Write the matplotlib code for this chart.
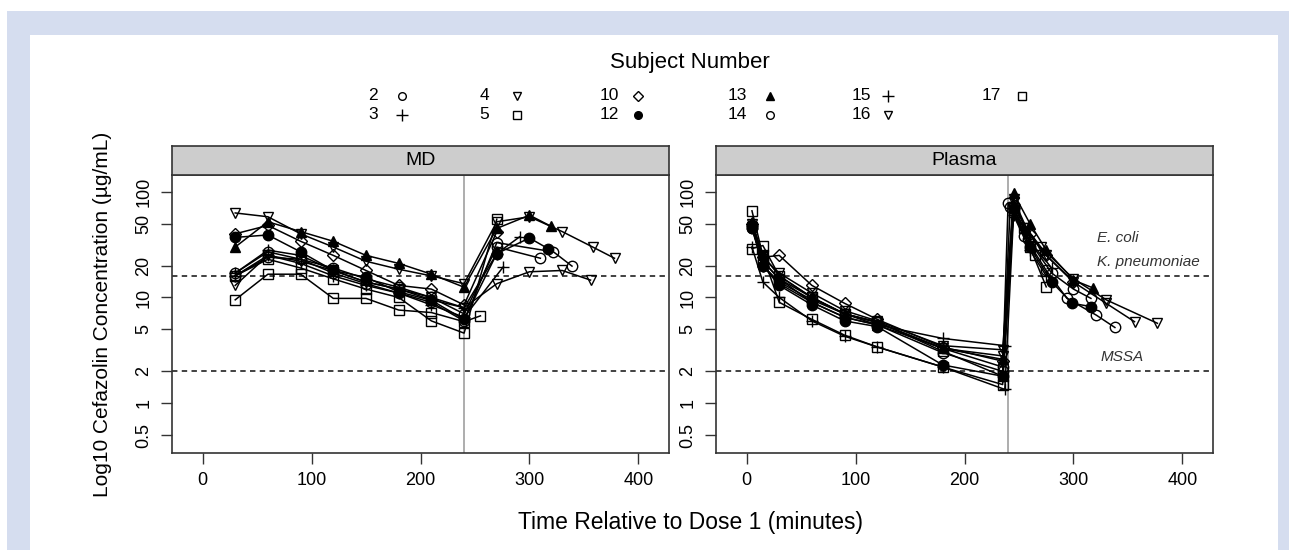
import matplotlib
matplotlib.use("Agg")
import matplotlib.pyplot as plt
from matplotlib.lines import Line2D
from matplotlib.patches import Rectangle

plt.rcParams["font.family"] = ["Liberation Sans", "DejaVu Sans"]

# Datos: sujetos y concentraciones (ug/mL)
subjects = [2, 3, 4, 5, 10, 12, 13, 14, 15, 16, 17]

md_time = {
    2: [30, 60, 90, 120, 150, 180, 210, 240, 270, 310],
    3: [30, 60, 90, 120, 150, 180, 210, 240, 276],
    4: [30, 60, 90, 120, 150, 180, 210, 240, 270, 300, 330, 356],
    5: [30, 60, 90, 120, 150, 180, 210, 240, 255],
    10: [30, 60, 90, 120, 150, 180, 210, 240, 270],
    12: [30, 60, 90, 120, 150, 180, 210, 240, 270, 300, 317],
    13: [30, 60, 90, 120, 150, 180, 210, 240, 270, 300, 320],
    14: [30, 60, 90, 120, 150, 180, 210, 240, 270, 322, 339],
    15: [30, 60, 90, 120, 150, 180, 210, 240, 270, 291],
    16: [30, 60, 90, 120, 150, 180, 210, 240, 270, 300, 330, 358, 378],
    17: [30, 60, 90, 120, 150, 180, 210, 240, 270],
}
md_conc = {
    2: [17, 27, 23, 19, 15, 12.5, 10, 7, 30, 23.5],
    3: [16, 25, 21, 16, 13, 11, 8.5, 6.5, 19.5],
    4: [13, 25, 22, 18, 14, 12, 10, 8, 13.5, 17.5, 18, 14.6],
    5: [9.5, 16.6, 16.6, 9.8, 9.8, 7.6, 7.2, 5.9, 6.7],
    10: [40, 48, 34, 25, 18, 13, 12, 8.5, 42],
    12: [37, 39, 27, 18, 15.5, 11.3, 9.4, 6.2, 26, 36.5, 29],
    13: [30, 52, 42, 34, 25, 21, 16.6, 12.5, 45, 60, 47],
    14: [16, 24, 23, 17, 13.5, 11, 9, 6, 33, 27, 19.8],
    15: [17, 28, 25, 18, 14, 12, 9.5, 8, 26, 37.5],
    16: [63, 58, 40, 30, 22, 18.5, 16, 13.5, 52, 58, 42, 30, 23.5],
    17: [16, 23, 19, 15, 12, 10, 6, 4.6, 55],
}

plasma_time = {
    2: [5, 15, 30, 60, 90, 120, 180, 235, 240, 255, 275, 294, 321, 338],
    3: [5, 15, 30, 60, 90, 120, 180, 237, 245, 260, 275],
    4: [5, 15, 30, 60, 90, 120, 180, 235, 245, 257, 275, 300, 330, 356],
    5: [5, 15, 30, 60, 90, 120, 180, 235, 245, 260, 275],
    10: [5, 15, 30, 60, 90, 120, 180, 235, 245, 260, 275, 300],
    12: [5, 15, 30, 60, 90, 120, 180, 235, 245, 260, 280, 299, 316],
    13: [5, 15, 30, 60, 90, 120, 180, 235, 245, 260, 275, 300, 318],
    14: [5, 15, 30, 60, 90, 120, 180, 235, 242, 258, 280, 300, 316],
    15: [5, 15, 30, 60, 90, 120, 180, 237, 245, 260, 280],
    16: [5, 15, 30, 60, 90, 120, 180, 235, 245, 257, 270, 300, 330, 377],
    17: [5, 15, 30, 60, 90, 120, 180, 235, 245, 255, 265],
}
plasma_conc = {
    2: [45, 22, 15, 9, 6.5, 5.5, 3, 2.0, 78, 38, 18, 9.8, 6.8, 5.2],
    3: [30, 14, 10, 6, 4.3, 3.4, 2.2, 1.35, 60, 28, 16],
    4: [46, 22, 15, 10, 7, 5.8, 3.3, 2.8, 80, 42, 25, 14, 8.8, 5.9],
    5: [66, 25, 9, 6.2, 4.4, 3.4, 2.2, 1.5, 65, 30, 12.6],
    10: [50, 24, 25, 13, 8.8, 6.2, 3.4, 2.5, 75, 40, 25, 14],
    12: [45, 20, 13, 8.5, 6, 5.3, 2.3, 1.8, 70, 30, 14, 8.8, 8.2],
    13: [52, 25, 16, 10, 7, 5.5, 3.3, 2.6, 97, 50, 28, 14.6, 12.3],
    14: [48, 20, 14, 9.5, 7, 5.8, 3.3, 2.2, 72, 36, 17, 12, 9.8],
    15: [47, 20, 13.5, 9, 6.5, 5.5, 4.1, 3.5, 70, 34, 19],
    16: [50, 24, 17, 11, 7.5, 6, 3.5, 3.2, 85, 45, 30, 15, 9.5, 5.7],
    17: [29, 31, 16, 10, 7, 5.9, 3.1, 1.8, 70, 45, 25],
}

y_ticks = [0.5, 1, 2, 5, 10, 20, 50, 100]
y_tick_labels = ["0.5", "1", "2", "5", "10", "20", "50", "100"]
x_ticks = [0, 100, 200, 300, 400]
mic_lines = [16, 2]
dose2_time = 240

# Estilo de simbolos (tipo R pch)
markers = {2: "o", 3: "+", 4: "v", 5: "s", 10: "D", 12: "o", 13: "^",
           14: "o", 15: "+", 16: "v", 17: "s"}
filled = {12, 13}

W, H = 1289, 550
fig = plt.figure(figsize=(W / 100, H / 100), dpi=100)
fig.patch.set_facecolor("white")

# Marco azul claro con area blanca
fig.add_artist(Rectangle((7 / W, 0), 1 - 7 / W, 1 - 11 / H, transform=fig.transFigure,
                         facecolor="#d5ddef", edgecolor="none", zorder=-10))
fig.add_artist(Rectangle((30 / W, 0), (1278 - 30) / W, 1 - 35 / H, transform=fig.transFigure,
                         facecolor="white", edgecolor="none", zorder=-9))

edge = "#333333"


def draw_panel(left_px, title, times, concs):
    ax = fig.add_axes([left_px / W, 1 - 453 / H, 497 / W, (453 - 175) / H])
    ax.set_facecolor("white")
    ax.set_yscale("log")
    ax.set_xlim(-28, 428)
    ax.set_ylim(0.338, 144)

    for y in mic_lines:
        ax.axhline(y, color=edge, lw=1.3, dashes=(3, 2.4), zorder=1)
    ax.axvline(dose2_time, color="#a0a0a0", lw=1.2, zorder=1)

    for s in subjects:
        mk = markers[s]
        ms = 7.5 if mk not in ("D", "+") else 6.2
        if mk == "+":
            ms = 9
        face = "black" if s in filled else "none"
        ax.plot(times[s], concs[s], color="black", lw=1.1, marker=mk, ms=ms,
                mfc=face, mec="black", mew=1.0, zorder=3)

    ax.set_xticks(x_ticks)
    ax.set_xticklabels([str(v) for v in x_ticks], fontsize=13)
    ax.set_yticks(y_ticks)
    ax.set_yticklabels(y_tick_labels, fontsize=13, rotation=90, va="center")
    ax.minorticks_off()
    ax.tick_params(axis="both", direction="out", length=8, width=1, color=edge, pad=6)
    ax.tick_params(top=False, right=False)
    for sp in ax.spines.values():
        sp.set_color(edge)
        sp.set_linewidth(1.2)

    # Tira superior estilo lattice
    strip = fig.add_axes([left_px / W, 1 - 175 / H, 497 / W, 29 / H])
    strip.set_facecolor("#cdcdcd")
    strip.set_xticks([])
    strip.set_yticks([])
    for sp in strip.spines.values():
        sp.set_color(edge)
        sp.set_linewidth(1.2)
    strip.text(0.5, 0.5, title, ha="center", va="center", fontsize=14, transform=strip.transAxes)
    return ax


ax_md = draw_panel(172, "MD", md_time, md_conc)
ax_pl = draw_panel(716, "Plasma", plasma_time, plasma_conc)

# Etiquetas de los puntos de corte (MIC)
ax_pl.text(322, 36.5, "E. coli", fontsize=11, style="italic", color="#333333", va="center")
ax_pl.text(322, 21.6, "K. pneumoniae", fontsize=11, style="italic", color="#333333", va="center")
ax_pl.text(325, 2.75, "MSSA", fontsize=11, style="italic", color="#333333", va="center")

fig.text(691 / W, 1 - 523 / H, "Time Relative to Dose 1 (minutes)", ha="center", va="center", fontsize=16.5)
fig.text(103 / W, 1 - 314 / H, "Log10 Cefazolin Concentration (µg/mL)", ha="center", va="center",
         rotation=90, fontsize=15)

# Leyenda manual (numero a la izquierda, simbolo a la derecha)
fig.text(690 / W, 1 - 62 / H, "Subject Number", ha="center", va="center", fontsize=16)
leg_text_x = [378, 489, 619, 747, 871, 1001]
leg_mark_x = [402, 517, 638, 770, 888, 1022]
leg_row_y = [95.5, 114.5]
for i, s in enumerate(subjects):
    col, row = divmod(i, 2)
    yy = 1 - leg_row_y[row] / H
    fig.text(leg_text_x[col] / W, yy, str(s), ha="right", va="center", fontsize=12.5)
    mk = markers[s]
    ms = 5.5 if mk != "+" else 8
    if mk == "D":
        ms = 5
    face = "black" if s in filled else "none"
    fig.add_artist(Line2D([leg_mark_x[col] / W], [yy], transform=fig.transFigure, marker=mk,
                          ms=ms, mfc=face, mec="black", mew=1.0, ls="none"))

fig.savefig("out.png", dpi=100)
